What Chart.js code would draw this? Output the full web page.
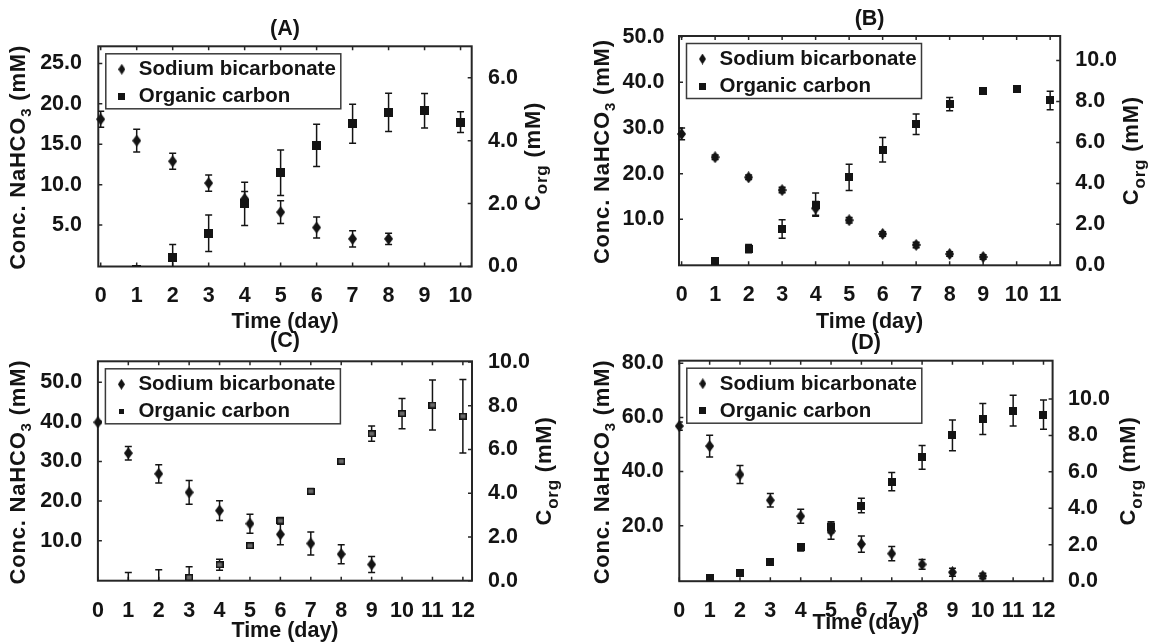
<!DOCTYPE html>
<html>
<head>
<meta charset="utf-8">
<script src="https://cdn.jsdelivr.net/npm/chart.js@4.4.0/dist/chart.umd.min.js"></script>
<style>
  html, body { margin: 0; padding: 0; background: #fff; overflow: hidden; }
  canvas { position: absolute; }
</style>
</head>
<body>
<canvas id="panelA" width="576" height="340" style="left:0;top:0"></canvas>
<canvas id="panelB" width="577" height="340" style="left:576px;top:0"></canvas>
<canvas id="panelC" width="576" height="325" style="left:0;top:318px"></canvas>
<canvas id="panelD" width="577" height="325" style="left:576px;top:318px"></canvas>
<script>
// ---- data ----
// (A)
const xTicksA = [0, 1, 2, 3, 4, 5, 6, 7, 8, 9, 10];
const leftTicksA = [5, 10, 15, 20, 25];
const rightTicksA = [0, 2, 4, 6];
const bicarbDaysA = [0, 1, 2, 3, 4, 5, 6, 7, 8];
const bicarbA = [18.1, 15.45, 12.9, 10.2, 8.25, 6.6, 4.7, 3.3, 3.3];
const bicarbErrA = [1.0, 1.4, 1.0, 1.0, 0.9, 1.4, 1.3, 1.0, 0.7];
const orgDaysA = [1, 2, 3, 4, 5, 6, 7, 8, 9, 10];
const orgA = [-0.08, 0.3, 1.06, 1.99, 2.98, 3.85, 4.54, 4.9, 4.95, 4.59];
const orgErrA = [0, 0.4, 0.58, 0.69, 0.72, 0.67, 0.62, 0.61, 0.55, 0.33];

// (B)
const xTicksB = [0, 1, 2, 3, 4, 5, 6, 7, 8, 9, 10, 11];
const leftTicksB = [10, 20, 30, 40, 50];
const rightTicksB = [0, 2, 4, 6, 8, 10];
const bicarbDaysB = [0, 1, 2, 3, 4, 5, 6, 7, 8, 9];
const bicarbB = [28.7, 23.6, 19.2, 16.4, 12.4, 9.8, 6.8, 4.4, 2.4, 1.75];
const bicarbErrB = [1.3, 0.5, 0.5, 0.6, 1.5, 0.6, 0.5, 0.6, 0.5, 0.5];
const orgDaysB = [1, 2, 3, 4, 5, 6, 7, 8, 9, 10, 11];
const orgB = [0.23, 0.81, 1.77, 2.96, 4.29, 5.64, 6.89, 7.87, 8.5, 8.6, 8.05];
const orgErrB = [0.05, 0.2, 0.45, 0.57, 0.64, 0.6, 0.5, 0.32, 0.1, 0.12, 0.45];

// (C)
const xTicksC = [0, 1, 2, 3, 4, 5, 6, 7, 8, 9, 10, 11, 12];
const leftTicksC = [10, 20, 30, 40, 50];
const rightTicksC = [0, 2, 4, 6, 8, 10];
const bicarbDaysC = [0, 1, 2, 3, 4, 5, 6, 7, 8, 9];
const bicarbC = [39.9, 32.1, 26.9, 22.2, 17.6, 14.3, 11.6, 9.3, 6.6, 4.0];
const bicarbErrC = [0.3, 1.7, 2.3, 3.0, 2.5, 2.4, 2.6, 2.9, 2.4, 2.0];
const orgDaysC = [1, 2, 3, 4, 5, 6, 7, 8, 9, 10, 11, 12];
const orgC = [-0.25, -0.25, 0.15, 0.73, 1.6, 2.74, 4.09, 5.46, 6.72, 7.64, 8.03, 7.52];
const orgErrC = [0.62, 0.75, 0.49, 0.25, 0.1, 0.15, 0.12, 0.1, 0.35, 0.69, 1.14, 1.68];

// (D)
const xTicksD = [0, 1, 2, 3, 4, 5, 6, 7, 8, 9, 10, 11, 12];
const leftTicksD = [20, 40, 60, 80];
const rightTicksD = [0, 2, 4, 6, 8, 10];
const bicarbDaysD = [0, 1, 2, 3, 4, 5, 6, 7, 8, 9, 10];
const bicarbD = [56.8, 49.4, 38.9, 29.4, 23.5, 18.0, 13.2, 9.7, 5.7, 2.8, 1.4];
const bicarbErrD = [1.5, 4.0, 3.3, 2.5, 2.6, 3.0, 3.0, 2.6, 1.8, 1.5, 1.0];
const orgDaysD = [1, 2, 3, 4, 5, 6, 7, 8, 9, 10, 11, 12];
const orgD = [0.2, 0.46, 1.04, 1.86, 2.96, 4.15, 5.47, 6.8, 8.0, 8.9, 9.36, 9.14];
const orgErrD = [0.05, 0.05, 0.05, 0.2, 0.3, 0.4, 0.5, 0.65, 0.84, 0.85, 0.84, 0.8];

const FONT = '"Liberation Sans", Arial, sans-serif';
const INK = '#141414';

function marker(shape, w, h, fill, stroke) {
    const c = document.createElement('canvas')
    c.width = w
    c.height = h
    const g = c.getContext('2d')
    g.fillStyle = fill
    if (shape === 'diamond') {
        g.beginPath()
        g.moveTo(w / 2, 0)
        g.lineTo(w, h / 2)
        g.lineTo(w / 2, h)
        g.lineTo(0, h / 2)
        g.closePath()
        g.fill()
    } else {
        g.fillRect(0, 0, w, h)
        if (stroke) {
            g.strokeStyle = stroke
            g.lineWidth = 1.5
            g.strokeRect(0.75, 0.75, w - 1.5, h - 1.5)
        }
    }
    return c
}

// box, inward ticks on all four sides
const frame = {
    id: 'frame',
    beforeDatasetsDraw(chart) {
        const { ctx, chartArea: a, scales } = chart
        ctx.save()
        ctx.strokeStyle = '#262626'
        ctx.lineWidth = 2
        ctx.strokeRect(a.left, a.top, a.right - a.left, a.bottom - a.top)
        ctx.lineWidth = 1.5
        ctx.beginPath()
        scales.x.ticks.forEach(t => {
            const x = scales.x.getPixelForValue(t.value)
            ctx.moveTo(x, a.top); ctx.lineTo(x, a.top + 4)
            ctx.moveTo(x, a.bottom); ctx.lineTo(x, a.bottom - 4)
        })
        scales.yL.ticks.forEach(t => {
            const y = scales.yL.getPixelForValue(t.value)
            ctx.moveTo(a.left, y); ctx.lineTo(a.left + 4, y)
        })
        scales.yR.ticks.forEach(t => {
            const y = scales.yR.getPixelForValue(t.value)
            ctx.moveTo(a.right, y); ctx.lineTo(a.right - 4, y)
        })
        ctx.stroke()
        ctx.restore()
    }
}

const errorBars = {
    id: 'errorBars',
    beforeDatasetsDraw(chart) {
        const { ctx, chartArea: a, scales } = chart
        ctx.save()
        ctx.beginPath()
        ctx.rect(a.left, a.top, a.right - a.left, a.bottom - a.top)
        ctx.clip()
        ctx.strokeStyle = INK
        ctx.lineWidth = 1.5
        chart.data.datasets.forEach(ds => {
            const ys = scales[ds.yAxisID]
            ds.data.forEach((p, i) => {
                const e = ds.errors[i]
                if (!e) return
                const x = scales.x.getPixelForValue(p.x)
                const y1 = ys.getPixelForValue(p.y - e)
                const y2 = ys.getPixelForValue(p.y + e)
                ctx.beginPath()
                ctx.moveTo(x, y1); ctx.lineTo(x, y2)
                ctx.moveTo(x - 3.5, y1); ctx.lineTo(x + 3.5, y1)
                ctx.moveTo(x - 3.5, y2); ctx.lineTo(x + 3.5, y2)
                ctx.stroke()
            })
        })
        ctx.restore()
    }
}

const boxLegend = {
    id: 'boxLegend',
    afterDatasetsDraw(chart) {
        const { ctx, chartArea: a } = chart
        const L = a.left + 7.5, T = a.top + 7.5, W = 235, H = 55
        ctx.save()
        ctx.fillStyle = '#fff'
        ctx.fillRect(L, T, W, H)
        ctx.strokeStyle = '#3a3a3a'
        ctx.lineWidth = 1.5
        ctx.strokeRect(L, T, W, H)
        ctx.font = `bold 20.5px ${FONT}`
        ctx.fillStyle = INK
        ctx.textBaseline = 'middle'
        chart.data.datasets.forEach((ds, i) => {
            const y = T + 15.5 + i * 27
            const m = ds.legendMarker
            ctx.drawImage(m, L + 16 - m.width / 2, y - m.height / 2)
            ctx.fillText(ds.label, L + 33, y + 0.5)
        })
        ctx.restore()
    }
}

function rotatedTitle(ctx, cx, cy, parts) {
    ctx.save()
    ctx.translate(cx, cy)
    ctx.rotate(-Math.PI / 2)
    ctx.fillStyle = INK
    ctx.textBaseline = 'alphabetic'
    ctx.letterSpacing = '0.8px'
    let total = 0
    parts.forEach(p => {
        ctx.font = `bold ${p.size}px ${FONT}`
        p.w = ctx.measureText(p.text).width
        total += p.w
    })
    let x = -total / 2
    const base = 0.358 * 22
    parts.forEach(p => {
        ctx.font = `bold ${p.size}px ${FONT}`
        ctx.fillText(p.text, x, base + (p.shift || 0))
        x += p.w
    })
    ctx.restore()
}

const axisTitles = {
    id: 'axisTitles',
    afterDraw(chart, args, opts) {
        const { ctx, chartArea: a } = chart
        const cy = (a.top + a.bottom) / 2
        rotatedTitle(ctx, opts.leftX, cy + 1, [
            { text: 'Conc. NaHCO', size: 22 },
            { text: '3', size: 15, shift: 6 },
            { text: ' (mM)', size: 22 }
        ])
        rotatedTitle(ctx, opts.rightX, cy, [
            { text: 'C', size: 22 },
            { text: 'org', size: 17, shift: 7 },
            { text: ' (mM)', size: 22 }
        ])
    }
}

const tickFont = { family: FONT, size: 21.5, weight: 'bold', lineHeight: 1 }

function buildPanel(p) {
    const diamond = marker('diamond', 9, 12, INK)
    const square = p.greySquares ? marker('square', 8, 7, '#6a6a6a', '#111') : marker('square', p.sq, p.sq, INK)
    const legendDiamond = marker('diamond', 7, 11, INK)
    const legendSquare = p.greySquares ? marker('square', 5, 5, INK) : marker('square', 7, 7, INK)
    const { area } = p

    new Chart(document.getElementById(p.id), {
        type: 'scatter',
        data: {
            datasets: [
                {
                    label: 'Sodium bicarbonate',
                    data: p.bicarbDays.map((d, i) => ({ x: d, y: p.bicarb[i] })),
                    errors: p.bicarbErr,
                    yAxisID: 'yL',
                    pointStyle: diamond,
                    pointRadius: 5,
                    legendMarker: legendDiamond,
                    clip: false
                },
                {
                    label: 'Organic carbon',
                    data: p.orgDays.map((d, i) => ({ x: d, y: p.org[i] })),
                    errors: p.orgErr,
                    yAxisID: 'yR',
                    pointStyle: square,
                    pointRadius: 5,
                    legendMarker: legendSquare,
                    clip: { left: 10, top: 10, right: 10, bottom: 0 }
                }
            ]
        },
        options: {
            responsive: false,
            devicePixelRatio: 1,
            animation: false,
            events: [],
            layout: { padding: 0 },
            plugins: {
                legend: { display: false },
                tooltip: { enabled: false },
                title: {
                    display: true,
                    text: p.title,
                    color: INK,
                    fullSize: false,
                    font: { family: FONT, size: 21.5, weight: 'bold', lineHeight: 1 },
                    padding: { top: p.titleMid - 10.75, bottom: area.top - p.titleMid - 10.75 }
                },
                axisTitles: { leftX: p.leftTitleX, rightX: p.rightTitleX }
            },
            scales: {
                x: {
                    type: 'linear',
                    min: p.xMin,
                    max: p.xMax,
                    grid: { display: false },
                    border: { display: false },
                    afterBuildTicks: s => { s.ticks = p.xTicks.map(v => ({ value: v })) },
                    afterFit: s => { s.height = p.h - area.bottom },
                    ticks: {
                        autoSkip: false, maxRotation: 0, color: INK, font: tickFont,
                        padding: p.xTickMid - area.bottom - 10.75,
                        callback: v => String(v)
                    },
                    title: {
                        display: true, text: 'Time (day)', color: INK,
                        font: { family: FONT, size: 21.5, weight: 'bold', lineHeight: 1 },
                        padding: { top: 0, bottom: p.h - p.xTitleMid - 10.75 }
                    }
                },
                yL: {
                    type: 'linear',
                    position: 'left',
                    min: p.lMin,
                    max: p.lMax,
                    grid: { display: false },
                    border: { display: false },
                    afterBuildTicks: s => { s.ticks = p.leftTicks.map(v => ({ value: v })) },
                    afterFit: s => { s.width = area.left },
                    ticks: {
                        autoSkip: false, color: INK, font: tickFont, padding: p.leftGap,
                        callback: v => v.toFixed(1)
                    }
                },
                yR: {
                    type: 'linear',
                    position: 'right',
                    min: p.rMin,
                    max: p.rMax,
                    grid: { display: false },
                    border: { display: false },
                    afterBuildTicks: s => { s.ticks = p.rightTicks.map(v => ({ value: v })) },
                    afterFit: s => { s.width = p.w - area.right },
                    ticks: {
                        autoSkip: false, color: INK, font: tickFont, padding: p.rightGap,
                        callback: v => v.toFixed(1)
                    }
                }
            }
        },
        plugins: [frame, errorBars, boxLegend, axisTitles]
    })
}

buildPanel({
    id: 'panelA', title: '(A)', w: 576, h: 340,
    area: { left: 98.3, right: 471.7, top: 46.3, bottom: 266.5 },
    titleMid: 29, xTickMid: 288.3, xTitleMid: 322,
    leftGap: 8.3, rightGap: 8.3, leftTitleX: 17.5, rightTitleX: 532,
    xMin: -0.067, xMax: 10.31, lMin: -0.12, lMax: 27.12, rMin: 0, rMax: 7.0,
    xTicks: xTicksA, leftTicks: leftTicksA, rightTicks: rightTicksA,
    bicarbDays: bicarbDaysA, bicarb: bicarbA, bicarbErr: bicarbErrA,
    orgDays: orgDaysA, org: orgA, orgErr: orgErrA, sq: 9
})

buildPanel({
    id: 'panelB', title: '(B)', w: 577, h: 340,
    area: { left: 103, right: 484.2, top: 36, bottom: 265.3 },
    titleMid: 19.5, xTickMid: 287.3, xTitleMid: 322,
    leftGap: 6.6, rightGap: 7, leftTitleX: 25, rightTitleX: 553.8,
    xMin: -0.078, xMax: 11.3, lMin: -0.07, lMax: 50.15, rMin: 0, rMax: 11.2,
    xTicks: xTicksB, leftTicks: leftTicksB, rightTicks: rightTicksB,
    bicarbDays: bicarbDaysB, bicarb: bicarbB, bicarbErr: bicarbErrB,
    orgDays: orgDaysB, org: orgB, orgErr: orgErrB, sq: 8
})

buildPanel({
    id: 'panelC', title: '(C)', w: 576, h: 325,
    area: { left: 97.9, right: 472, top: 43.3, bottom: 262.7 },
    titleMid: 23, xTickMid: 285.3, xTitleMid: 313,
    leftGap: 7.8, rightGap: 8, leftTitleX: 17.5, rightTitleX: 543,
    xMin: 0, xMax: 12.3, lMin: -0.1, lMax: 55.3, rMin: 0, rMax: 10.03,
    xTicks: xTicksC, leftTicks: leftTicksC, rightTicks: rightTicksC,
    bicarbDays: bicarbDaysC, bicarb: bicarbC, bicarbErr: bicarbErrC,
    orgDays: orgDaysC, org: orgC, orgErr: orgErrC, greySquares: true
})

buildPanel({
    id: 'panelD', title: '(D)', w: 577, h: 325,
    area: { left: 103.3, right: 476.6, top: 42.7, bottom: 263.2 },
    titleMid: 25, xTickMid: 285.3, xTitleMid: 305.3,
    leftGap: 7.6, rightGap: 7.4, leftTitleX: 25, rightTitleX: 551,
    xMin: 0, xMax: 12.3, lMin: -0.5, lMax: 80.95, rMin: 0, rMax: 12.1,
    xTicks: xTicksD, leftTicks: leftTicksD, rightTicks: rightTicksD,
    bicarbDays: bicarbDaysD, bicarb: bicarbD, bicarbErr: bicarbErrD,
    orgDays: orgDaysD, org: orgD, orgErr: orgErrD, sq: 8
})
</script>
</body>
</html>
